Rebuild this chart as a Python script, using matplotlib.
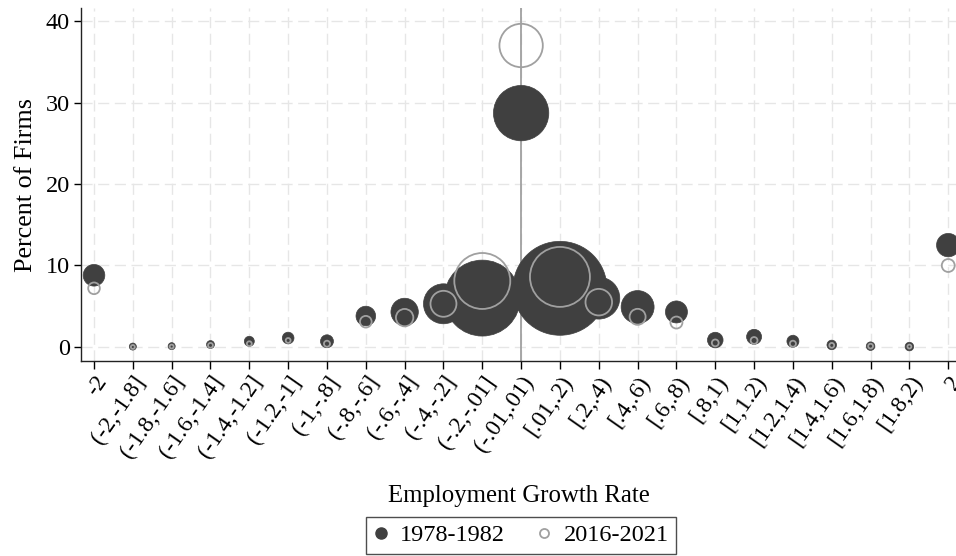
import matplotlib
matplotlib.use("Agg")
import matplotlib.pyplot as plt
from matplotlib.lines import Line2D
import numpy as np

plt.rcParams['font.family'] = ['Liberation Serif', 'DejaVu Serif']

# Employment growth rate bins
categories = ["-2", "(-2,-1.8]", "(-1.8,-1.6]", "(-1.6,-1.4]", "(-1.4,-1.2]",
              "(-1.2,-1]", "(-1,-.8]", "(-.8,-.6]", "(-.6,-.4]", "(-.4,-.2]",
              "(-.2,-.01]", "(-.01,.01)", "[.01,.2)", "[.2,.4)", "[.4,.6)",
              "[.6,.8)", "[.8,1)", "[1,1.2)", "[1.2,1.4)", "[1.4,1.6)",
              "[1.6,1.8)", "[1.8,2)", "2"]

# Percent of firms in each bin
pct_1978 = [8.8, 0.05, 0.1, 0.3, 0.7, 1.1, 0.7, 3.8, 4.3, 5.3, 6.0, 28.7,
            7.2, 6.0, 4.9, 4.3, 0.85, 1.25, 0.7, 0.25, 0.1, 0.05, 12.5]
pct_2016 = [7.2, 0.0, 0.05, 0.2, 0.4, 0.8, 0.4, 3.1, 3.6, 5.3, 8.1, 37.0,
            8.6, 5.5, 3.7, 3.0, 0.5, 0.8, 0.4, 0.2, 0.1, 0.05, 10.0]

# Employment share weights (marker area)
emp_1978 = [1.79, 0.19, 0.19, 0.24, 0.38, 0.52, 0.64, 1.47, 2.87, 6.11,
            22.06, 11.72, 33.75, 6.74, 4.16, 1.85, 0.93, 0.86, 0.55, 0.35,
            0.28, 0.28, 2.09]
emp_2016 = [0.52, 0.06, 0.06, 0.09, 0.09, 0.09, 0.14, 0.52, 1.16, 2.58,
            11.98, 7.20, 13.75, 2.70, 0.98, 0.55, 0.18, 0.18, 0.14, 0.09,
            0.09, 0.06, 0.64]

series_labels = ["1978-1982", "2016-2021"]

DARK = "#404040"
LIGHT = "#a0a0a0"
GRID = "#e6e6e6"

fig = plt.figure(figsize=(9.56, 5.56), dpi=100)
ax = fig.add_axes([81 / 956, 195 / 556, 1 - 81 / 956, 353 / 556])

x = np.arange(len(categories))
scale = 135.5

ax.axvline(categories.index("(-.01,.01)"), color=LIGHT, lw=1.3, zorder=1)

ax.scatter(x, pct_1978, s=np.array(emp_1978) * scale, color=DARK,
           edgecolors=DARK, linewidths=0.5, zorder=3, clip_on=False)
ax.scatter(x, pct_2016, s=np.array(emp_2016) * scale, facecolors="none",
           edgecolors=LIGHT, linewidths=1.3, zorder=4, clip_on=False)

ax.set_xlim(-0.335, 22.2)
ax.set_ylim(-1.72, 41.6)
ax.set_yticks([0, 10, 20, 30, 40])
ax.set_xticks(x)
ax.set_xticklabels(categories, rotation=55, ha="right", va="top",
                   rotation_mode="anchor", fontsize=16.8)
ax.tick_params(axis="x", length=6, width=1, pad=2)
ax.tick_params(axis="y", length=5, width=1, labelsize=17.5, pad=3)

ax.grid(True, color=GRID, linestyle=(0, (8, 4)), lw=1)
ax.set_axisbelow(True)
for side in ("top", "right"):
    ax.spines[side].set_visible(False)
for side in ("left", "bottom"):
    ax.spines[side].set_linewidth(1)
    ax.spines[side].set_color("#222222")

ax.set_ylabel("Percent of Firms", fontsize=18.8, labelpad=6)
ax.set_xlabel("Employment Growth Rate", fontsize=17.8, labelpad=16)

handles = [
    Line2D([], [], marker="o", ls="none", color=DARK, markersize=8),
    Line2D([], [], marker="o", ls="none", markerfacecolor="none",
           markeredgecolor=LIGHT, markeredgewidth=1.3, markersize=6.5),
]
leg = fig.legend(handles, series_labels, loc="upper center",
                 bbox_to_anchor=(521 / 956, 1 - 517 / 556), ncol=2,
                 fontsize=17.5, frameon=True, fancybox=False,
                 edgecolor="#222222", handletextpad=0.5, columnspacing=1.3,
                 borderpad=0.3, handlelength=0.6, borderaxespad=0)
leg.get_frame().set_linewidth(1)

fig.savefig("out.png", dpi=100)
